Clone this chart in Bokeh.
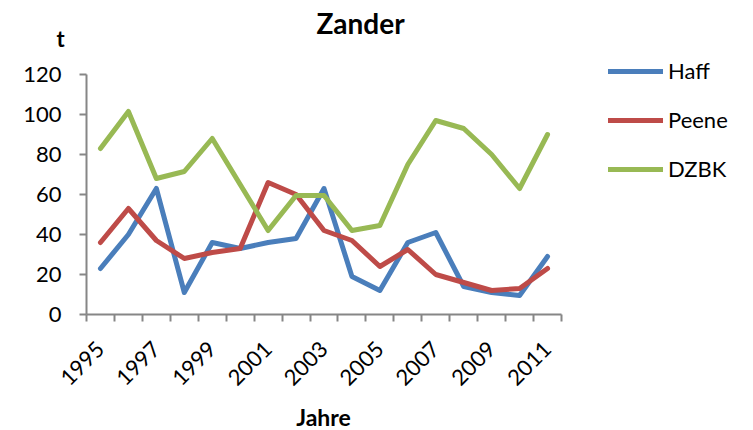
import math
from bokeh.plotting import figure
from bokeh.models import FixedTicker, Label, Legend, LegendItem, Range1d
from bokeh.embed import file_html
from bokeh.resources import INLINE

years = list(range(1995, 2012))
haff = [23, 40, 63, 11, 36, 33, 36, 38, 63, 19, 12, 36, 41, 14, 11, 9.5, 29]
peene = [36, 53, 37, 28, 31, 33, 66, 60, 42, 37, 24, 32.5, 20, 16, 12, 13, 23]
dzbk = [83, 101.5, 68, 71.5, 88, 65, 42, 59.5, 59.5, 42, 44.5, 75, 97, 93, 80, 63, 90]
y_ticks = [0, 20, 40, 60, 80, 100, 120]
x_label_years = years[::2]

FONT = "Lato"
AXIS_COLOR = "#868686"
W, H = 753, 430
# plot area in pixels: left 86, right 561, top 74, bottom 314
PX_PER_YEAR = (561 - 86) / len(years)
PX_PER_T = (314 - 74) / 120.0
x0 = years[0] - 0.5
x_lo = x0 - 86 / PX_PER_YEAR
x_hi = years[-1] + 0.5 + (W - 561) / PX_PER_YEAR
y_lo = -(H - 314) / PX_PER_T
y_hi = 120 + 74 / PX_PER_T

def px_x(px):
    return x_lo + px / PX_PER_YEAR

def px_y(py):
    return (314 - py) / PX_PER_T

p = figure(width=W, height=H, output_backend="svg", toolbar_location=None,
           x_range=Range1d(x_lo, x_hi), y_range=Range1d(y_lo, y_hi), min_border=0)
p.outline_line_color = None
p.xgrid.visible = False
p.ygrid.visible = False

series = [("Haff", haff, "#4a7ebb"), ("Peene", peene, "#be4b48"), ("DZBK", dzbk, "#98b954")]
items = []
for name, vals, col in series:
    r = p.line(years, vals, line_color=col, line_width=5, line_join="round", line_cap="round")
    items.append(LegendItem(label=name, renderers=[r]))

# y axis
ya = p.yaxis[0]
ya.fixed_location = x0
ya.bounds = (0, 120)
ya.ticker = FixedTicker(ticks=y_ticks)
ya.axis_line_color = AXIS_COLOR
ya.axis_line_width = 2
ya.major_tick_line_color = AXIS_COLOR
ya.major_tick_line_width = 2
ya.major_tick_out = 7
ya.major_tick_in = 0
ya.minor_tick_line_color = None
ya.major_label_text_font = FONT
ya.major_label_text_font_size = "22px"
ya.major_label_text_color = "black"
ya.major_label_standoff = 18

# x axis
xa = p.xaxis[0]
xa.fixed_location = 0
xa.bounds = (x0, years[-1] + 0.5)
xa.ticker = FixedTicker(ticks=x_label_years, minor_ticks=[y - 0.5 for y in years] + [years[-1] + 0.5])
xa.axis_line_color = AXIS_COLOR
xa.axis_line_width = 2
xa.major_tick_line_color = None
xa.major_tick_out = 7
xa.major_tick_in = 0
xa.minor_tick_line_color = AXIS_COLOR
xa.minor_tick_line_width = 2
xa.minor_tick_out = 7
xa.minor_tick_in = 0
xa.major_label_orientation = math.pi / 4
xa.major_label_text_font = FONT
xa.major_label_text_font_size = "22px"
xa.major_label_text_color = "black"
xa.major_label_standoff = 24

legend = Legend(items=items, location=(608, H - 182), glyph_width=55, glyph_height=26,
                label_height=26, spacing=22, padding=0, margin=0, label_standoff=5,
                border_line_color=None, background_fill_alpha=0,
                label_text_font=FONT, label_text_font_size="22px", label_text_color="black")
p.add_layout(legend)

p.add_layout(Label(x=px_x(360), y=px_y(22), text="Zander", text_font=FONT, text_font_style="bold",
                   text_font_size="28px", text_align="center", text_baseline="alphabetic",
                   text_color="black"))
p.add_layout(Label(x=px_x(60), y=px_y(38), text="t", text_font=FONT, text_font_style="bold",
                   text_font_size="22px", text_align="center", text_baseline="alphabetic",
                   text_color="black"))
p.add_layout(Label(x=px_x(323), y=px_y(416), text="Jahre", text_font=FONT, text_font_style="bold",
                   text_font_size="23px", text_align="center", text_baseline="alphabetic",
                   text_color="black"))

open("out.html", "w").write(file_html(p, INLINE))
